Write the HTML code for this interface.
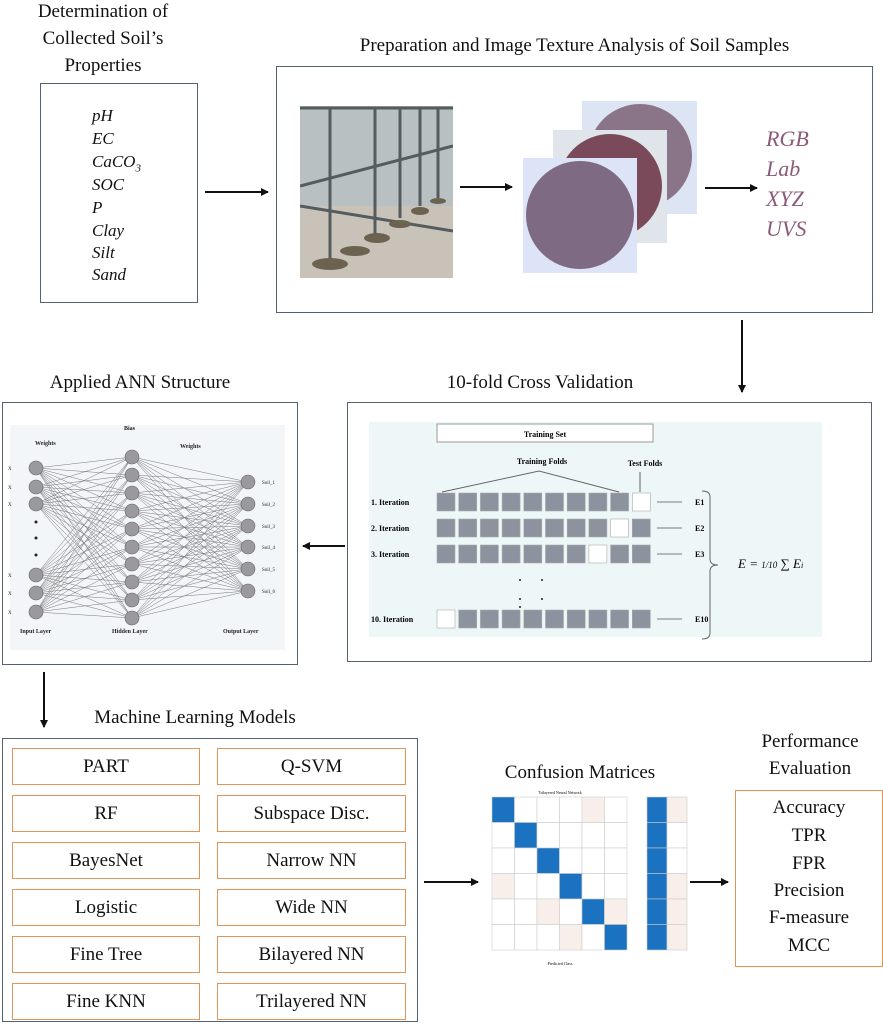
<!DOCTYPE html>
<html><head><meta charset="utf-8"><style>
body{margin:0;width:883px;height:1024px;background:#fff;position:relative;overflow:hidden;font-family:"Liberation Serif",serif;color:#111}
.a{position:absolute}
.t{position:absolute;text-align:center;font-size:19px;line-height:27px}
.box{position:absolute;border:1.5px solid #556070;box-sizing:border-box}
.ob{position:absolute;border:1.5px solid #e0955a;box-sizing:border-box;text-align:center;font-size:19px;line-height:35px;height:37px}
.it{position:absolute;font-style:italic;font-size:17px;left:92px}
.pe{position:absolute;width:148px;left:735px;text-align:center;font-size:19px}
</style></head><body>
<div class="t" style="left:0;top:-2px;width:206px">Determination of<br>Collected Soil’s<br>Properties</div>
<div class="box" style="left:40px;top:83px;width:158px;height:220px"></div>
<div class="it" style="top:106px">pH</div>
<div class="it" style="top:129px">EC</div>
<div class="it" style="top:152px">CaCO<sub style="font-size:11px">3</sub></div>
<div class="it" style="top:175px">SOC</div>
<div class="it" style="top:198px">P</div>
<div class="it" style="top:221px">Clay</div>
<div class="it" style="top:243px">Silt</div>
<div class="it" style="top:265px">Sand</div>

<div class="t" style="left:276px;top:32px;width:597px">Preparation and Image Texture Analysis of Soil Samples</div>
<div class="box" style="left:276px;top:66px;width:597px;height:247px"></div>
<svg class="a" style="left:300px;top:106px" width="153" height="172">
<rect width="153" height="172" fill="#b9c0c2"/><rect y="100" width="153" height="72" fill="#c8c2b8"/>
<g stroke="#555c60" stroke-width="3"><line x1="0" y1="2" x2="153" y2="2"/><line x1="30" y1="2" x2="30" y2="160"/><line x1="75" y1="2" x2="75" y2="130"/><line x1="100" y1="2" x2="100" y2="112"/><line x1="120" y1="2" x2="120" y2="100"/><line x1="138" y1="2" x2="138" y2="92"/><line x1="0" y1="100" x2="153" y2="125"/><line x1="0" y1="80" x2="153" y2="40"/></g>
<g fill="#6b6250"><ellipse cx="30" cy="158" rx="18" ry="6"/><ellipse cx="55" cy="145" rx="15" ry="5"/><ellipse cx="77" cy="132" rx="13" ry="5"/><ellipse cx="100" cy="118" rx="11" ry="4"/><ellipse cx="120" cy="105" rx="9" ry="4"/><ellipse cx="138" cy="95" rx="8" ry="3"/></g></svg>
<svg class="a" style="left:520px;top:98px" width="182" height="180">
<rect x="62" y="3" width="115" height="113" fill="#dde4f4"/><circle cx="120" cy="58" r="52" fill="#8a7588"/>
<rect x="33" y="32" width="114" height="113" fill="#dfe5ea"/><circle cx="90" cy="88" r="52" fill="#7a4a5a"/>
<rect x="3" y="60" width="114" height="115" fill="#dde4f8"/><circle cx="60" cy="117" r="54" fill="#7e6a82"/></svg>
<div class="a" style="left:766px;top:124px;font-style:italic;font-size:22px;line-height:30px;color:#8b5a7a">RGB<br>Lab<br>XYZ<br>UVS</div>

<div class="t" style="left:0;top:369px;width:280px">Applied ANN Structure</div>
<div class="t" style="left:380px;top:369px;width:320px">10-fold Cross Validation</div>
<div class="box" style="left:2px;top:402px;width:296px;height:263px"></div>
<svg id="ann" class="a" style="left:0;top:0" width="300" height="670"><rect x="10" y="425" width="275" height="225" fill="#f3f6f8"/><g id="lines" stroke="#777" stroke-width="0.5"></g><g id="nodes" fill="#9a9a9e" stroke="#666" stroke-width="0.6"></g>
<g font-size="6" font-weight="bold" fill="#222"><text x="35" y="445">Weights</text><text x="124" y="430">Bias</text><text x="180" y="448">Weights</text><text x="20" y="633">Input Layer</text><text x="112" y="633">Hidden Layer</text><text x="223" y="633">Output Layer</text></g>
<g fill="#222"><circle cx="36" cy="522" r="1.5"/><circle cx="36" cy="538" r="1.5"/><circle cx="36" cy="555" r="1.5"/></g></svg>
<script>
var I=[468,487,504,575,593,612],H=[457,475,493,511,529,547,564,582,600,618],O=[482,504,526,547,569,591],l='',n='',t='';
I.forEach(function(a){H.forEach(function(b){l+='<line x1="36" y1="'+a+'" x2="132" y2="'+b+'"/>'});n+='<circle cx="36" cy="'+a+'" r="7"/>'});
H.forEach(function(b){O.forEach(function(c){l+='<line x1="132" y1="'+b+'" x2="248" y2="'+c+'"/>'});n+='<circle cx="132" cy="'+b+'" r="7"/>'});
O.forEach(function(c,i){n+='<circle cx="248" cy="'+c+'" r="7"/>';t+='<text x="262" y="'+(c+2)+'" font-size="5" fill="#222" stroke="none">Soil_'+(i+1)+'</text>'});
I.forEach(function(a){t+='<text x="8" y="'+(a+2)+'" font-size="5" fill="#222" stroke="none">X</text>'});
document.getElementById('lines').innerHTML=l;document.getElementById('nodes').innerHTML=n+t;
</script>

<div class="box" style="left:347px;top:402px;width:525px;height:260px"></div>
<svg class="a" style="left:347px;top:402px" width="525" height="260" font-family="Liberation Serif" font-weight="bold" font-size="8">
<rect x="22" y="20" width="453" height="215" fill="#eef7f7"/>
<rect x="90" y="22" width="216" height="18" fill="#fff" stroke="#999"/><text x="198" y="35" text-anchor="middle">Training Set</text>
<text x="195" y="62" text-anchor="middle">Training Folds</text><text x="298" y="64" text-anchor="middle">Test Folds</text>
<polyline points="95,90 192,69 272,90" fill="none" stroke="#666"/><line x1="293" y1="90" x2="293" y2="70" stroke="#666"/>
<g id="cv"></g>
<path d="M355,89 q8,0 8,6 v62 q0,6 8,6 q-8,0 -8,6 v62 q0,6 -8,6" fill="none" stroke="#666"/>
<text x="391" y="166" font-size="13" font-weight="normal" font-style="italic">E = <tspan font-size="9">1/10</tspan> ∑ E<tspan font-size="8">i</tspan></text>
<g fill="#222"><circle cx="173" cy="178" r="1"/><circle cx="195" cy="178" r="1"/><circle cx="173" cy="197" r="1"/><circle cx="195" cy="197" r="1"/><circle cx="173" cy="205" r="1"/></g>
</svg>
<script>
var R=[[100,9,'1. Iteration','E1'],[126,8,'2. Iteration','E2'],[152,7,'3. Iteration','E3'],[217,0,'10. Iteration','E10']],s='';
R.forEach(function(r){s+='<text x="24" y="'+(r[0]+3)+'">'+r[2]+'</text><text x="348" y="'+(r[0]+3)+'">'+r[3]+'</text><line x1="310" y1="'+r[0]+'" x2="335" y2="'+r[0]+'" stroke="#555" stroke-width="0.8"/>';
for(var k=0;k<10;k++)s+='<rect x="'+(90+k*21.7)+'" y="'+(r[0]-9)+'" width="18" height="18" fill="'+(k==r[1]?'#fff':'#8d939e')+'" stroke="#aaa" stroke-width="0.6"/>';});
document.getElementById('cv').innerHTML=s;
</script>

<div class="t" style="left:0;top:704px;width:390px">Machine Learning Models</div>
<div class="box" style="left:2px;top:738px;width:416px;height:284px"></div>
<div class="ob" style="left:12px;top:748px;width:188px">PART</div>
<div class="ob" style="left:217px;top:748px;width:189px">Q-SVM</div>
<div class="ob" style="left:12px;top:795px;width:188px">RF</div>
<div class="ob" style="left:217px;top:795px;width:189px">Subspace Disc.</div>
<div class="ob" style="left:12px;top:842px;width:188px">BayesNet</div>
<div class="ob" style="left:217px;top:842px;width:189px">Narrow NN</div>
<div class="ob" style="left:12px;top:889px;width:188px">Logistic</div>
<div class="ob" style="left:217px;top:889px;width:189px">Wide NN</div>
<div class="ob" style="left:12px;top:936px;width:188px">Fine Tree</div>
<div class="ob" style="left:217px;top:936px;width:189px">Bilayered NN</div>
<div class="ob" style="left:12px;top:983px;width:188px">Fine KNN</div>
<div class="ob" style="left:217px;top:983px;width:189px">Trilayered NN</div>

<div class="t" style="left:470px;top:759px;width:220px">Confusion Matrices</div>
<svg class="a" style="left:480px;top:785px" width="215" height="180"><g id="cm"></g></svg>
<script>
var c='';for(var i=0;i<6;i++)for(var j=0;j<6;j++)c+='<rect x="'+(12+j*22.5)+'" y="'+(12+i*25.5)+'" width="22.5" height="25.5" fill="'+(i==j?'#1a72c0':'#fff')+'" stroke="#ccc" stroke-width="0.6"/>';
for(var i=0;i<6;i++){c+='<rect x="167" y="'+(12+i*25.5)+'" width="20" height="25.5" fill="#1a72c0" stroke="#ccc" stroke-width="0.6"/><rect x="187" y="'+(12+i*25.5)+'" width="20" height="25.5" fill="'+(i==1||i==2?'#fff':'#f8eeea')+'" stroke="#ccc" stroke-width="0.6"/>';}
[[0,4],[3,0],[4,2],[4,5],[5,3]].forEach(function(p){c+='<rect x="'+(12.5+p[1]*22.5)+'" y="'+(12.5+p[0]*25.5)+'" width="21.5" height="24.5" fill="#f8eeea"/>'});
c+='<text x="80" y="9" font-size="4" text-anchor="middle">Trilayered Neural Network</text><text x="80" y="180" font-size="4" text-anchor="middle">Predicted Class</text>';
document.getElementById('cm').innerHTML=c;
</script>

<div class="t" style="left:725px;top:728px;width:170px">Performance<br>Evaluation</div>
<div class="box" style="left:735px;top:790px;width:148px;height:177px;border-color:#e0955a"></div>
<div class="pe" style="top:797px">Accuracy</div>
<div class="pe" style="top:825px">TPR</div>
<div class="pe" style="top:853px">FPR</div>
<div class="pe" style="top:880px">Precision</div>
<div class="pe" style="top:907px">F-measure</div>
<div class="pe" style="top:935px">MCC</div>

<svg class="a" style="left:0;top:0" width="883" height="1024" pointer-events="none">
<defs><marker id="m" markerWidth="8" markerHeight="8" refX="7" refY="4" orient="auto" markerUnits="userSpaceOnUse"><path d="M0,0 L8,4 L0,8 z" fill="#111"/></marker></defs>
<g stroke="#111" stroke-width="2" marker-end="url(#m)">
<line x1="205" y1="192" x2="268" y2="192"/>
<line x1="460" y1="187" x2="512" y2="187"/>
<line x1="705" y1="188" x2="757" y2="188"/>
<line x1="742" y1="320" x2="742" y2="392"/>
<line x1="345" y1="546" x2="303" y2="546"/>
<line x1="44" y1="672" x2="44" y2="727"/>
<line x1="424" y1="882" x2="478" y2="882"/>
<line x1="690" y1="882" x2="728" y2="882"/>
</g></svg>
</body></html>
